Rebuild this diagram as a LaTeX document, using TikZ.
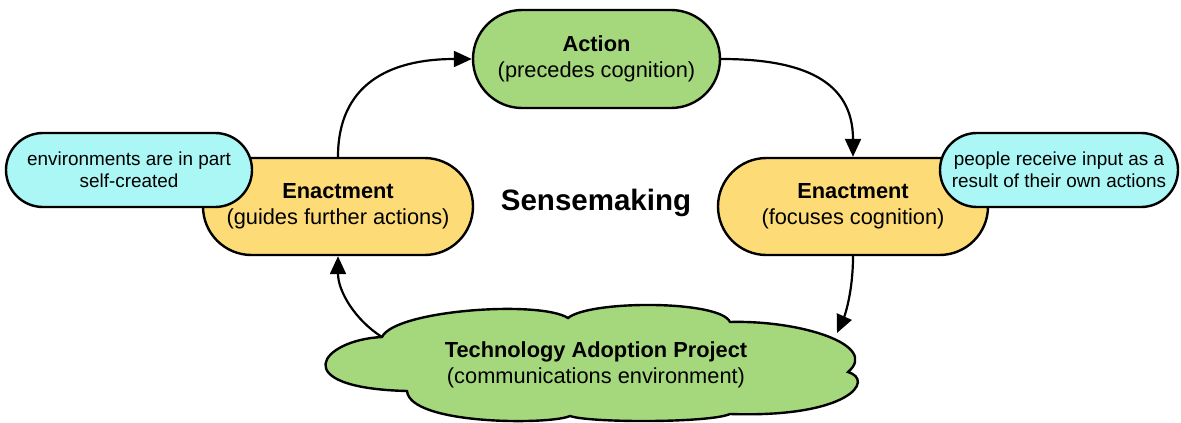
\documentclass[tikz,border=0pt]{standalone}
\usepackage{fontspec}
\setmainfont{Liberation Sans}
\usetikzlibrary{arrows.meta,shapes.misc}
\definecolor{actgreen}{HTML}{A5D87C}
\definecolor{enyellow}{HTML}{FDDB77}
\definecolor{notecyan}{HTML}{AAF7F5}
\tikzset{
  pill/.style={rounded rectangle, draw=black, line width=2.4pt, inner sep=0pt, align=center,
    font=\fontsize{21.8}{26}\selectfont},
  notepill/.style={rounded rectangle, draw=black, line width=2.4pt, fill=notecyan, inner sep=0pt,
    align=center, minimum height=74pt, font=\fontsize{18.9}{22}\selectfont},
  flow/.style={line width=2.2pt, -{Triangle[length=18pt,width=16pt]}},
  cloudline/.style={draw=black, line width=2.4pt, fill=actgreen, line join=miter}
}
\begin{document}
\begin{tikzpicture}[x=1pt,y=-1pt]
\useasboundingbox (0,0) rectangle (1181,423);
% nodes
\node[pill, fill=actgreen, minimum width=247pt, minimum height=98pt] (action) at (596.5,59)
  {\textbf{Action}\\(precedes cognition)};
\node[pill, fill=enyellow, minimum width=270pt, minimum height=97pt] (lenact) at (338,206.5)
  {\textbf{Enactment}\\(guides further actions)};
\node[pill, fill=enyellow, minimum width=270pt, minimum height=97pt] (renact) at (853,206.5)
  {\textbf{Enactment}\\(focuses cognition)};
\node[notepill, minimum width=246pt] (lnote) at (129,170)
  {environments are in part\\self-created};
\node[notepill, minimum width=238pt] (rnote) at (1059,170)
  {people receive input as a\\result of their own actions};
\node[font=\fontsize{29.5}{34}\selectfont\bfseries] (sense) at (596,203) {Sensemaking};
% cloud
\path[cloudline] (382,337)
  .. controls (395,310) and (540,300) .. (568,318)
  .. controls (590,300) and (720,300) .. (730,322)
  .. controls (800,320) and (880,345) .. (848,372)
  .. controls (875,380) and (850,418) .. (730,414)
  .. controls (710,423) and (590,423) .. (570,416)
  .. controls (550,425) and (410,425) .. (407,391)
  .. controls (285,388) and (320,340) .. cycle;
\node[align=center, inner sep=0pt, font=\fontsize{21.8}{25.5}\selectfont] (cloud) at (596,365)
  {\textbf{Technology Adoption Project}\\(communications environment)};
\coordinate (cloudR) at (837,333);
\coordinate (cloudL) at (382,337);
% connectors
\draw[flow] (lenact.north) .. controls +(0,-72) and +(-83,0) .. (action.west);
\draw[flow] (action.east) .. controls +(80,0) and +(0,-77) .. (renact.north);
\draw[flow] (renact.south) .. controls +(0,35) and +(8,-18) .. (cloudR);
\draw[flow] (cloudL) .. controls +(-27,-17) and +(0,35) .. (lenact.south);
\end{tikzpicture}
\end{document}
